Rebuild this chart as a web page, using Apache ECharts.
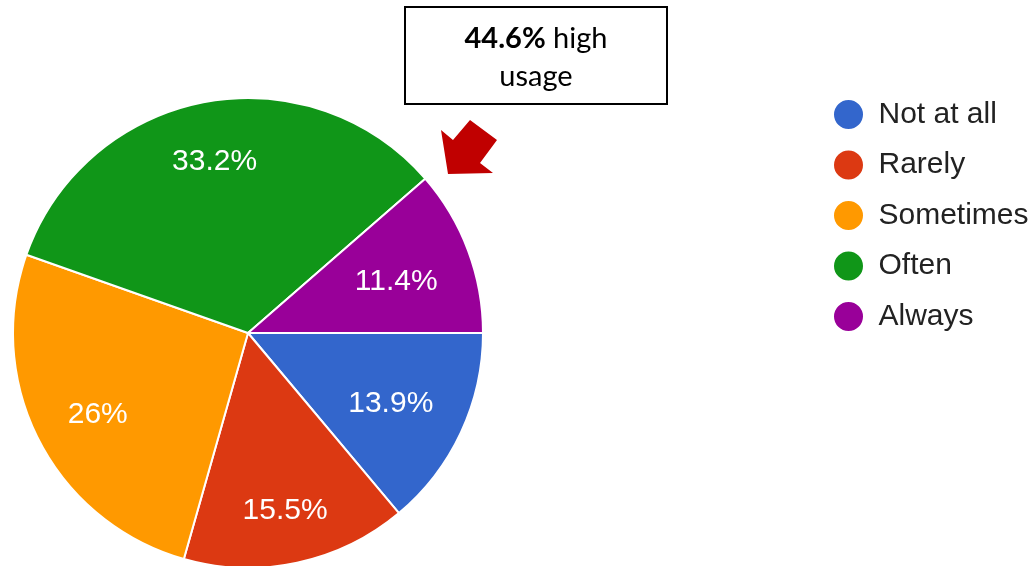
<!DOCTYPE html>
<html>
<head>
<meta charset="utf-8">
<script src="https://cdn.jsdelivr.net/npm/echarts@6/dist/echarts.min.js"></script>
<style>
  html, body { margin: 0; padding: 0; background: #fff; }
  #chart { width: 1036px; height: 566px; }
</style>
</head>
<body>
<div id="chart"></div>
<script>
// Frequency of use, share of respondents (%)
const categories = ['Not at all', 'Rarely', 'Sometimes', 'Often', 'Always'];
const shares = [13.9, 15.5, 26, 33.2, 11.4];
const colors = ['#3366cc', '#dc3912', '#ff9900', '#109618', '#990099'];
const highUsage = ['Often', 'Always'];

const CENTER = [248, 333];
const RADIUS = 235;
const LABEL_REACH = 0.855 * RADIUS; // outer corner of each value label sits on this circle

const total = shares.reduce((a, b) => a + b, 0);
const highShare = shares
  .filter((v, i) => highUsage.includes(categories[i]))
  .reduce((a, b) => a + b, 0);

// mid-angle of every slice (clockwise from 3 o'clock, screen coordinates)
const midAngles = [];
let acc = 0;
shares.forEach(v => {
  midAngles.push(((acc + v / 2) / total) * Math.PI * 2);
  acc += v;
});

const chart = echarts.init(document.getElementById('chart'), null, { renderer: 'canvas' });

chart.setOption({
  animation: false,
  backgroundColor: '#ffffff',
  legend: {
    orient: 'vertical',
    left: 827,
    top: 93,
    icon: 'circle',
    itemWidth: 50,
    itemHeight: 31,
    itemGap: 17.5,
    selectedMode: false,
    data: categories,
    textStyle: {
      fontFamily: '"Liberation Sans", Arial, sans-serif',
      fontSize: 30,
      color: '#222222',
      lineHeight: 32
    }
  },
  series: [{
    type: 'pie',
    center: CENTER,
    radius: [0, RADIUS],
    startAngle: 0,
    clockwise: true,
    silent: true,
    emphasis: { disabled: true },
    itemStyle: { borderColor: '#ffffff', borderWidth: 2 },
    label: {
      show: true,
      position: 'inside',
      formatter: p => p.value + '%',
      color: '#ffffff',
      fontFamily: '"Liberation Sans", Arial, sans-serif',
      fontSize: 30
    },
    labelLine: { show: false },
    labelLayout: params => {
      const th = midAngles[params.dataIndex];
      const cx = Math.cos(th), cy = Math.sin(th);
      const w = params.labelRect.width, h = 22;
      const a = Math.abs(cx) * w / 2 + Math.abs(cy) * h / 2;
      const c = (w * w + h * h) / 4 - LABEL_REACH * LABEL_REACH;
      const d = -a + Math.sqrt(a * a - c);
      return { x: CENTER[0] + d * cx, y: CENTER[1] + d * cy + 4, align: 'center', verticalAlign: 'middle' };
    },
    data: categories.map((name, i) => ({
      name: name,
      value: shares[i],
      itemStyle: { color: colors[i] }
    }))
  }],
  graphic: [
    {
      type: 'rect',
      shape: { x: 405, y: 7, width: 262, height: 97 },
      style: { fill: '#ffffff', stroke: '#000000', lineWidth: 2 }
    },
    {
      type: 'text',
      x: 536,
      y: 58,
      style: {
        text: '{b|' + highShare.toFixed(1) + '%} high\nusage',
        align: 'center',
        verticalAlign: 'middle',
        fontFamily: 'Lato, Carlito, sans-serif',
        fontSize: 29,
        lineHeight: 38,
        fill: '#000000',
        rich: {
          b: {
            fontFamily: 'Lato, Carlito, sans-serif',
            fontSize: 29,
            fontWeight: 'bold',
            lineHeight: 38,
            fill: '#000000'
          }
        }
      }
    },
    {
      // pointer toward the high-usage slices
      type: 'polygon',
      shape: {
        points: [[470, 120], [497, 140], [480, 163], [493, 173], [448, 174], [441, 130], [453, 140]]
      },
      style: { fill: '#c00000' }
    }
  ]
});
</script>
</body>
</html>
